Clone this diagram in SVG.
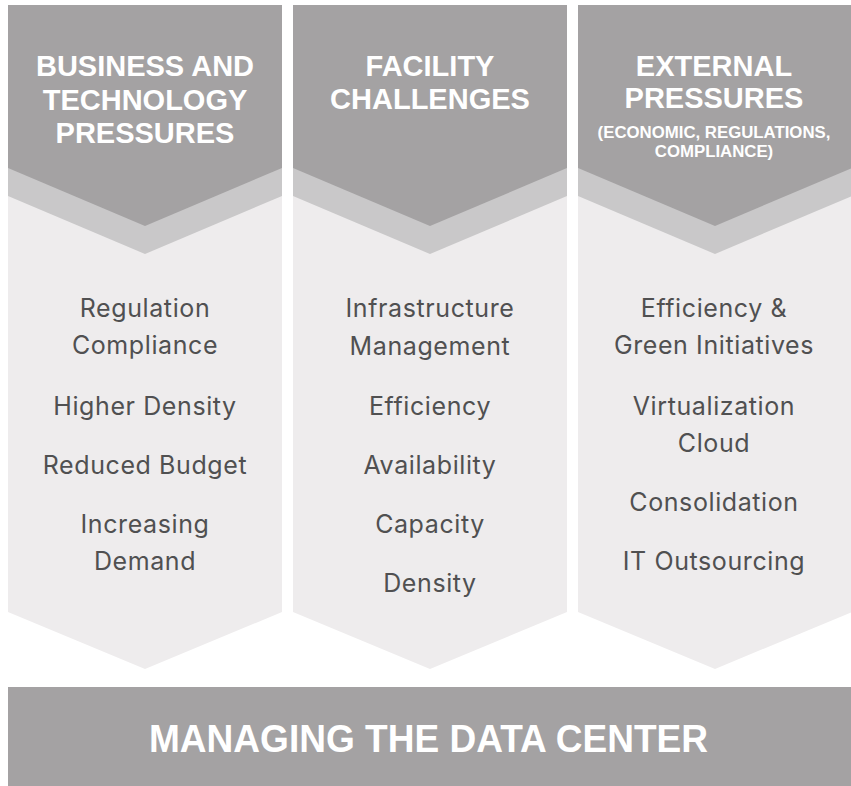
<svg xmlns="http://www.w3.org/2000/svg" width="851" height="786" viewBox="0 0 851 786">
<style>
.light{fill:#eeeced}
.mid{fill:#c9c8c9}
.dark{fill:#a4a2a3}
.head{font-family:"Liberation Sans",Arial,sans-serif;font-weight:bold;font-size:29px;fill:#ffffff;text-anchor:middle}
.sub{font-family:"Liberation Sans",Arial,sans-serif;font-weight:bold;font-size:16.8px;fill:#ffffff;text-anchor:middle}
.body{font-family:Inter,"Liberation Sans",sans-serif;font-size:25px;letter-spacing:0.6px;fill:#505051;text-anchor:middle}
.banner{font-family:"Liberation Sans",Arial,sans-serif;font-weight:bold;font-size:39px;fill:#ffffff;text-anchor:middle}
</style>
<rect width="851" height="786" fill="#ffffff"/>
<g id="col-business">
<polygon class="light" points="8,5 282,5 282,612 145,669 8,612"/>
<polygon class="mid" points="8,5 282,5 282,196 145,254 8,196"/>
<polygon class="dark" points="8,5 282,5 282,168 145,226 8,168"/>
<text class="head" x="145" y="76">BUSINESS AND</text>
<text class="head" x="145" y="109.5">TECHNOLOGY</text>
<text class="head" x="145" y="143">PRESSURES</text>
<text class="body" x="145" y="317">Regulation</text>
<text class="body" x="145" y="354">Compliance</text>
<text class="body" x="145" y="415">Higher Density</text>
<text class="body" x="145" y="474">Reduced Budget</text>
<text class="body" x="145" y="532.5">Increasing</text>
<text class="body" x="145" y="569.5">Demand</text>
</g>
<g id="col-facility">
<polygon class="light" points="293,5 567,5 567,612 430,669 293,612"/>
<polygon class="mid" points="293,5 567,5 567,196 430,254 293,196"/>
<polygon class="dark" points="293,5 567,5 567,168 430,226 293,168"/>
<text class="head" x="430" y="76">FACILITY</text>
<text class="head" x="430" y="109">CHALLENGES</text>
<text class="body" x="430" y="317">Infrastructure</text>
<text class="body" x="430" y="354.5">Management</text>
<text class="body" x="430" y="415">Efficiency</text>
<text class="body" x="430" y="473.5">Availability</text>
<text class="body" x="430" y="532.5">Capacity</text>
<text class="body" x="430" y="591.5">Density</text>
</g>
<g id="col-external">
<polygon class="light" points="578,5 852,5 852,612 715,669 578,612"/>
<polygon class="mid" points="578,5 852,5 852,196 715,254 578,196"/>
<polygon class="dark" points="578,5 852,5 852,168 715,226 578,168"/>
<text class="head" x="714" y="76">EXTERNAL</text>
<text class="head" x="714" y="107.5">PRESSURES</text>
<text class="sub" x="714" y="138">(ECONOMIC, REGULATIONS,</text>
<text class="sub" x="714" y="157">COMPLIANCE)</text>
<text class="body" x="714" y="317">Efficiency &amp;</text>
<text class="body" x="714" y="354">Green Initiatives</text>
<text class="body" x="714" y="415">Virtualization</text>
<text class="body" x="714" y="451.5">Cloud</text>
<text class="body" x="714" y="510.5">Consolidation</text>
<text class="body" x="714" y="570">IT Outsourcing</text>
</g>
<g id="banner">
<rect class="dark" x="8" y="687" width="843" height="99"/>
<text class="banner" x="428.5" y="751.5" textLength="559" lengthAdjust="spacingAndGlyphs">MANAGING THE DATA CENTER</text>
</g>
<g id="connectors"></g>
</svg>
